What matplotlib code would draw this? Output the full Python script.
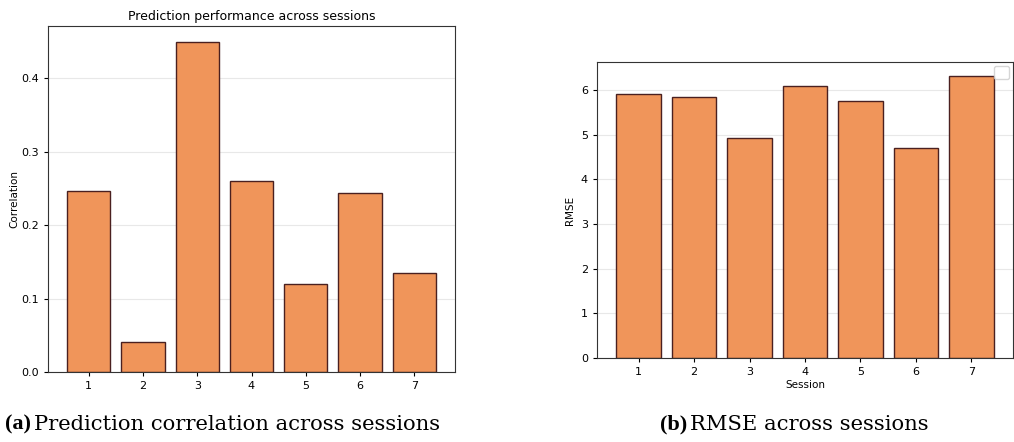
import numpy as np
import matplotlib.pyplot as plt

sessions = [1, 2, 3, 4, 5, 6, 7]
correlation = [0.247, 0.041, 0.449, 0.260, 0.120, 0.244, 0.135]
rmse = [5.92, 5.84, 4.92, 6.08, 5.76, 4.70, 6.31]

bar_color = "#f0955a"
edge_color = "#4a2020"

fig = plt.figure(figsize=(10.14, 4.42), dpi=100)

# (a) correlation per session
ax1 = fig.add_axes([48 / 1014, 1 - 372 / 442, 407 / 1014, 346 / 442])
ax1.bar(sessions, correlation, width=0.8, color=bar_color, edgecolor=edge_color, linewidth=1.0, zorder=2)
ax1.set_xlim(0.25, 7.75)
ax1.set_xticks(sessions)
ax1.set_yticks(np.arange(0, 0.45, 0.1))
ax1.set_title("Prediction performance across sessions", fontsize=9, pad=4)
ax1.set_ylabel("Correlation", fontsize=7.5, labelpad=1)
ax1.grid(axis="y", color="#e8e8e8", linewidth=0.8, zorder=0)
ax1.tick_params(labelsize=8, length=3)

# (b) RMSE per session
ax2 = fig.add_axes([597 / 1014, 1 - 358 / 442, 416 / 1014, 296 / 442])
ax2.bar(sessions, rmse, width=0.8, color=bar_color, edgecolor=edge_color, linewidth=1.0, zorder=2)
ax2.set_xlim(0.25, 7.75)
ax2.set_xticks(sessions)
ax2.set_xlabel("Session", fontsize=7.5, labelpad=2)
ax2.set_ylabel("RMSE", fontsize=7.5)
ax2.grid(axis="y", color="#e8e8e8", linewidth=0.8, zorder=0)
ax2.tick_params(labelsize=8, length=3)
ax2.legend(handles=[plt.Rectangle((0, 0), 1, 1, fc="none", ec="none")], labels=[""],
           loc="upper right", fontsize=6, handlelength=0.6, borderpad=0.2, framealpha=0.8)

for ax in (ax1, ax2):
    for s in ax.spines.values():
        s.set_color("#333333")

# subfigure captions
cap_y = 1 - 424 / 442
fig.text(5 / 1014, cap_y, "(a)", fontsize=16, fontweight="bold", family="Liberation Serif", va="center")
fig.text(34 / 1014, cap_y, "Prediction correlation across sessions", fontsize=15.2, family="DejaVu Serif", va="center")
fig.text(660 / 1014, cap_y, "(b)", fontsize=16, fontweight="bold", family="Liberation Serif", va="center")
fig.text(690 / 1014, cap_y, "RMSE across sessions", fontsize=15.2, family="DejaVu Serif", va="center")

fig.savefig("out.png", dpi=100)
